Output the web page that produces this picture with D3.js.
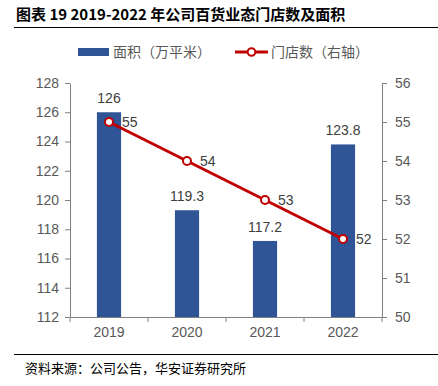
<!DOCTYPE html>
<html>
<head>
<meta charset="utf-8">
<script src="https://cdn.jsdelivr.net/npm/d3@7"></script>
<style>
  body { margin: 0; background: #fff; }
  svg { display: block; font-family: Arial, "Liberation Sans", sans-serif; }
  .axis path, .axis line { stroke: #808080; }
  .axis text { fill: #595959; font-size: 14px; font-family: Arial, "Liberation Sans", sans-serif; }
</style>
</head>
<body>
<div id="chart"></div>
<script>
// data
var years = ["2019", "2020", "2021", "2022"];
var area = [126, 119.3, 117.2, 123.8];      // 面积 (万平米)
var stores = [55, 54, 53, 52];               // 门店数 (右轴)
var leftTicks = [112, 114, 116, 118, 120, 122, 124, 126, 128];
var rightTicks = [50, 51, 52, 53, 54, 55, 56];

var W = 438, H = 386;
var margin = { top: 83, right: 56, bottom: 69, left: 70 }; // plot 70..382, 83..317
var width = W - margin.left - margin.right;
var height = H - margin.top - margin.bottom;

var svg = d3.select("#chart").append("svg")
    .attr("width", W)
    .attr("height", H);

// title
svg.append("text")
    .attr("x", 16).attr("y", 20)
    .style("font-family", "'Noto Sans CJK SC', sans-serif")
    .style("font-weight", "bold")
    .style("font-size", "15px")
    .attr("fill", "#000")
    .text("图表 19 2019-2022 年公司百货业态门店数及面积");

svg.append("line")
    .attr("x1", 14).attr("x2", 438)
    .attr("y1", 27.5).attr("y2", 27.5)
    .attr("stroke", "#000").attr("stroke-width", 1);

// legend
var lg = svg.append("g").attr("transform", "translate(0,52)");
lg.append("rect").attr("x", 78).attr("y", -4).attr("width", 31).attr("height", 8).attr("fill", "#2F5597");
lg.append("text").attr("x", 113).attr("y", 5)
    .style("font-family", "'Noto Sans CJK SC', sans-serif").style("font-size", "14px")
    .attr("fill", "#595959").text("面积（万平米）");
lg.append("line").attr("x1", 235).attr("x2", 268).attr("y1", 0).attr("y2", 0)
    .attr("stroke", "#C00000").attr("stroke-width", 3);
lg.append("circle").attr("cx", 251.5).attr("cy", 0).attr("r", 3.8)
    .attr("fill", "#fff").attr("stroke", "#C00000").attr("stroke-width", 2);
lg.append("text").attr("x", 271).attr("y", 5)
    .style("font-family", "'Noto Sans CJK SC', sans-serif").style("font-size", "14px")
    .attr("fill", "#595959").text("门店数（右轴）");

var g = svg.append("g").attr("transform", "translate(" + margin.left + "," + margin.top + ")");

var x = d3.scaleBand().domain(years).range([0, width]).paddingInner(0.69).paddingOuter(0.345);
var y = d3.scaleLinear().domain([112, 128]).range([height, 0]);
var y2 = d3.scaleLinear().domain([50, 56]).range([height, 0]);

// bars
g.selectAll(".bar")
    .data(area)
    .enter().append("rect")
    .attr("class", "bar")
    .attr("x", function(d, i) { return x(years[i]); })
    .attr("width", x.bandwidth())
    .attr("y", function(d) { return y(d); })
    .attr("height", function(d) { return height - y(d); })
    .attr("fill", "#2F5597");

g.selectAll(".barlabel")
    .data(area)
    .enter().append("text")
    .attr("x", function(d, i) { return x(years[i]) + x.bandwidth() / 2; })
    .attr("y", function(d) { return y(d) - 9; })
    .attr("text-anchor", "middle")
    .style("font-size", "14px")
    .attr("fill", "#404040")
    .text(function(d) { return d; });

// axes
var xAxis = g.append("g").attr("class", "axis")
    .attr("transform", "translate(0," + height + ")")
    .call(d3.axisBottom(x).tickSize(0).tickPadding(10));
// boundary ticks on x axis
var bounds = [0];
years.forEach(function(yr) { bounds.push(x(yr) + x.bandwidth() / 2 + x.step() / 2); });
xAxis.selectAll(".bnd").data(bounds).enter().append("line")
    .attr("x1", function(d) { return d; }).attr("x2", function(d) { return d; })
    .attr("y1", 0).attr("y2", 5).attr("stroke", "#808080");

g.append("g").attr("class", "axis")
    .call(d3.axisLeft(y).tickValues(leftTicks).tickSize(5).tickSizeOuter(0).tickPadding(6));

g.append("g").attr("class", "axis")
    .attr("transform", "translate(" + width + ",0)")
    .call(d3.axisRight(y2).tickValues(rightTicks).tickFormat(d3.format("d")).tickSize(5).tickSizeOuter(0).tickPadding(8));

// line
var cx = function(d, i) { return x(years[i]) + x.bandwidth() / 2; };
g.append("path")
    .datum(stores)
    .attr("fill", "none")
    .attr("stroke", "#C00000")
    .attr("stroke-width", 3)
    .attr("d", d3.line().x(cx).y(function(d) { return y2(d); }));

g.selectAll(".dot")
    .data(stores)
    .enter().append("circle")
    .attr("cx", cx)
    .attr("cy", function(d) { return y2(d); })
    .attr("r", 4)
    .attr("fill", "#fff")
    .attr("stroke", "#C00000")
    .attr("stroke-width", 2);

g.selectAll(".dotlabel")
    .data(stores)
    .enter().append("text")
    .attr("x", function(d, i) { return cx(d, i) + 13; })
    .attr("y", function(d) { return y2(d) + 5; })
    .style("font-size", "14px")
    .attr("fill", "#404040")
    .text(function(d) { return d; });

// footer
svg.append("line")
    .attr("x1", 14).attr("x2", 438)
    .attr("y1", 354.5).attr("y2", 354.5)
    .attr("stroke", "#000").attr("stroke-width", 1);
svg.append("text")
    .attr("x", 25).attr("y", 373)
    .style("font-family", "'Noto Sans CJK SC', sans-serif")
    .style("font-size", "13px")
    .attr("fill", "#000")
    .text("资料来源：公司公告，华安证券研究所");
</script>
</body>
</html>
